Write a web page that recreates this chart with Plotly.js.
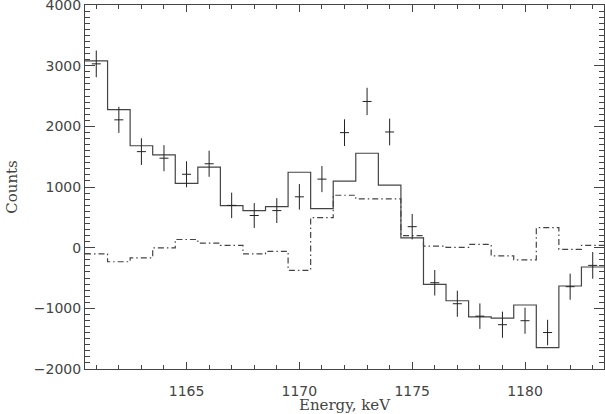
<!DOCTYPE html>
<html>
<head>
<meta charset="utf-8">
<script src="https://cdn.plot.ly/plotly-3.0.1.min.js"></script>
<style>
  body { margin: 0; background: #fff; }
  #chart { width: 605px; height: 414px; }
</style>
</head>
<body>
<div id="chart"></div>
<script>
// energies (keV), one per bin
const energia = [1161, 1162, 1163, 1164, 1165, 1166, 1167, 1168, 1169, 1170, 1171, 1172,
                 1173, 1174, 1175, 1176, 1177, 1178, 1179, 1180, 1181, 1182, 1183];

// measured counts with errors
const cuentas = [3030, 2107, 1583, 1475, 1210, 1383, 697, 530, 611, 838, 1130, 1896,
                 2410, 1907, 346, -578, -924, -1129, -1270, -1204, -1399, -643, -292];
const errores = [220, 215, 220, 215, 215, 215, 210, 205, 205, 210, 215, 220,
                 225, 220, 210, 210, 215, 210, 215, 215, 210, 215, 220];

// model histogram (solid)
const modelo = [3080, 2274, 1680, 1529, 1059, 1329, 692, 611, 676, 1243, 643, 1097,
                1556, 1032, 160, -605, -875, -1140, -1162, -945, -1648, -632, -319];

// background component (dash-dot)
const fondo = [-103, -232, -167, -5, 135, 76, 38, -103, -60, -373, 496, 864,
               805, 805, 200, 27, 5, 54, -135, -200, 329, -27, 38];

// bin edges for the step lines
function bordes() {
    const b = energia.map(e => e - 0.5);
    b.push(energia[energia.length - 1] + 0.5);
    return b;
}
function escalon(vals) {
    return vals.concat([vals[vals.length - 1]]);
}

const colorLinea = '#444';

const trazaModelo = {
    x: bordes(),
    y: escalon(modelo),
    type: 'scatter',
    mode: 'lines',
    line: {shape: 'hv', color: colorLinea, width: 1.2},
    hoverinfo: 'skip'
};

const trazaFondo = {
    x: bordes(),
    y: escalon(fondo),
    type: 'scatter',
    mode: 'lines',
    line: {shape: 'hv', color: colorLinea, width: 1.2, dash: '6px,3px,1.5px,3px'},
    hoverinfo: 'skip'
};

const trazaDatos = {
    x: energia,
    y: cuentas,
    type: 'scatter',
    mode: 'markers',
    marker: {size: 0.1, color: '#111'},
    error_y: {type: 'data', array: errores, visible: true, color: '#222', thickness: 1, width: 0},
    error_x: {type: 'constant', value: 0.2, visible: true, color: '#222', thickness: 1, width: 0},
    hoverinfo: 'skip'
};

const fuenteTicks = {family: 'DejaVu Sans, Verdana, sans-serif', size: 14, color: '#444'};
const fuenteTitulo = {family: 'DejaVu Serif, Liberation Serif, serif', size: 15, color: '#444'};

const layout = {
    width: 605,
    height: 414,
    margin: {l: 85, r: 1, t: 5, b: 45},
    paper_bgcolor: '#fff',
    plot_bgcolor: '#fff',
    showlegend: false,
    xaxis: {
        range: [1160.5, 1183.5],
        tickvals: [1165, 1170, 1175, 1180],
        ticks: 'inside',
        ticklen: 7,
        tickcolor: colorLinea,
        tickfont: fuenteTicks,
        ticklabelstandoff: 9,
        showline: true,
        linecolor: colorLinea,
        linewidth: 1,
        mirror: 'ticks',
        showgrid: false,
        zeroline: false,
        minor: {dtick: 1, ticks: 'inside', ticklen: 4, tickcolor: colorLinea, showgrid: false},
        title: {text: 'Energy, keV', font: fuenteTitulo, standoff: 3}
    },
    yaxis: {
        range: [-2000, 4000],
        dtick: 1000,
        ticks: 'inside',
        ticklen: 10,
        tickcolor: colorLinea,
        tickfont: fuenteTicks,
        ticklabeloverflow: 'allow',
        showline: true,
        linecolor: colorLinea,
        linewidth: 1,
        mirror: 'ticks',
        showgrid: false,
        zeroline: false,
        minor: {dtick: 100, ticks: 'inside', ticklen: 5, tickcolor: colorLinea, showgrid: false},
        title: {text: 'Counts', font: fuenteTitulo, standoff: 12}
    }
};

Plotly.newPlot('chart', [trazaModelo, trazaFondo, trazaDatos], layout, {staticPlot: true});
</script>
</body>
</html>
